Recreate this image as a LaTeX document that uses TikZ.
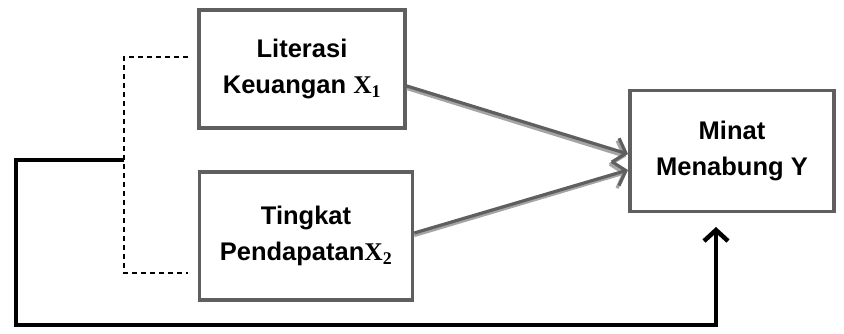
\documentclass[tikz,border=0pt]{standalone}
\usepackage{fontspec}
\setmainfont{Liberation Sans}
\newfontfamily\mathlike{Liberation Serif}
\usetikzlibrary{arrows.meta}
\definecolor{boxgray}{RGB}{95,95,95}
\definecolor{shadegray}{RGB}{165,165,165}
\newcommand{\varX}[1]{{\mathlike X}\textsubscript{\mathlike #1}}
\tikzset{
  varbox/.style={draw=boxgray, line width=3.5pt, fill=white, align=center,
    font=\fontsize{25.5}{36}\selectfont\bfseries, inner sep=0pt},
  effect/.style={line width=3.2pt, -{Straight Barb[length=11pt,width=25pt,line width=3.2pt]}},
  link/.style={draw=black, line width=1.3pt, dashed, dash pattern=on 5pt off 4pt},
  path/.style={draw=black, line width=4.5pt}
}
\begin{document}
\begin{tikzpicture}[x=1pt,y=-1pt]
\useasboundingbox (0,0) rectangle (844,334);
\node[varbox, minimum width=206pt, minimum height=118pt] (x1) at (302,69) {Literasi\\Keuangan \varX{1}};
\node[varbox, minimum width=213pt, minimum height=128pt] (x2) at (306,236) {Tingkat\\Pendapatan\varX{2}};
\node[varbox, minimum width=204pt, minimum height=121pt] (y) at (732,151) {Minat\\Menabung Y};
% dashed bracket joining both predictors
\coordinate (d1) at (188,57);
\coordinate (d2) at (188,273);
\coordinate (j) at (124,160);
\draw[link] (d1) -| (124,273) -- (d2);
% simultaneous path to Y
\coordinate (ytip) at (716,227);
\draw[path, line join=miter] (j) -| (16,325) -| (716,240);
\draw[path, -{Straight Barb[length=11pt,width=24pt,line width=4.5pt]}] (716,250) -- (ytip);
% partial effects, each with a light offset shade
\coordinate (a1) at (x1.east |- 0,86);
\coordinate (a2) at (x2.east |- 0,233);
\coordinate (t1) at (628,154);
\coordinate (t2) at (628,170);
\draw[effect, shadegray] ([shift={(0,2.5)}]a1) -- ([shift={(-2,2.5)}]t1);
\draw[effect, shadegray] ([shift={(0,2.5)}]a2) -- ([shift={(-2,2.5)}]t2);
\draw[effect, boxgray] (a1) -- (t1);
\draw[effect, boxgray] (a2) -- (t2);
\end{tikzpicture}
\end{document}
